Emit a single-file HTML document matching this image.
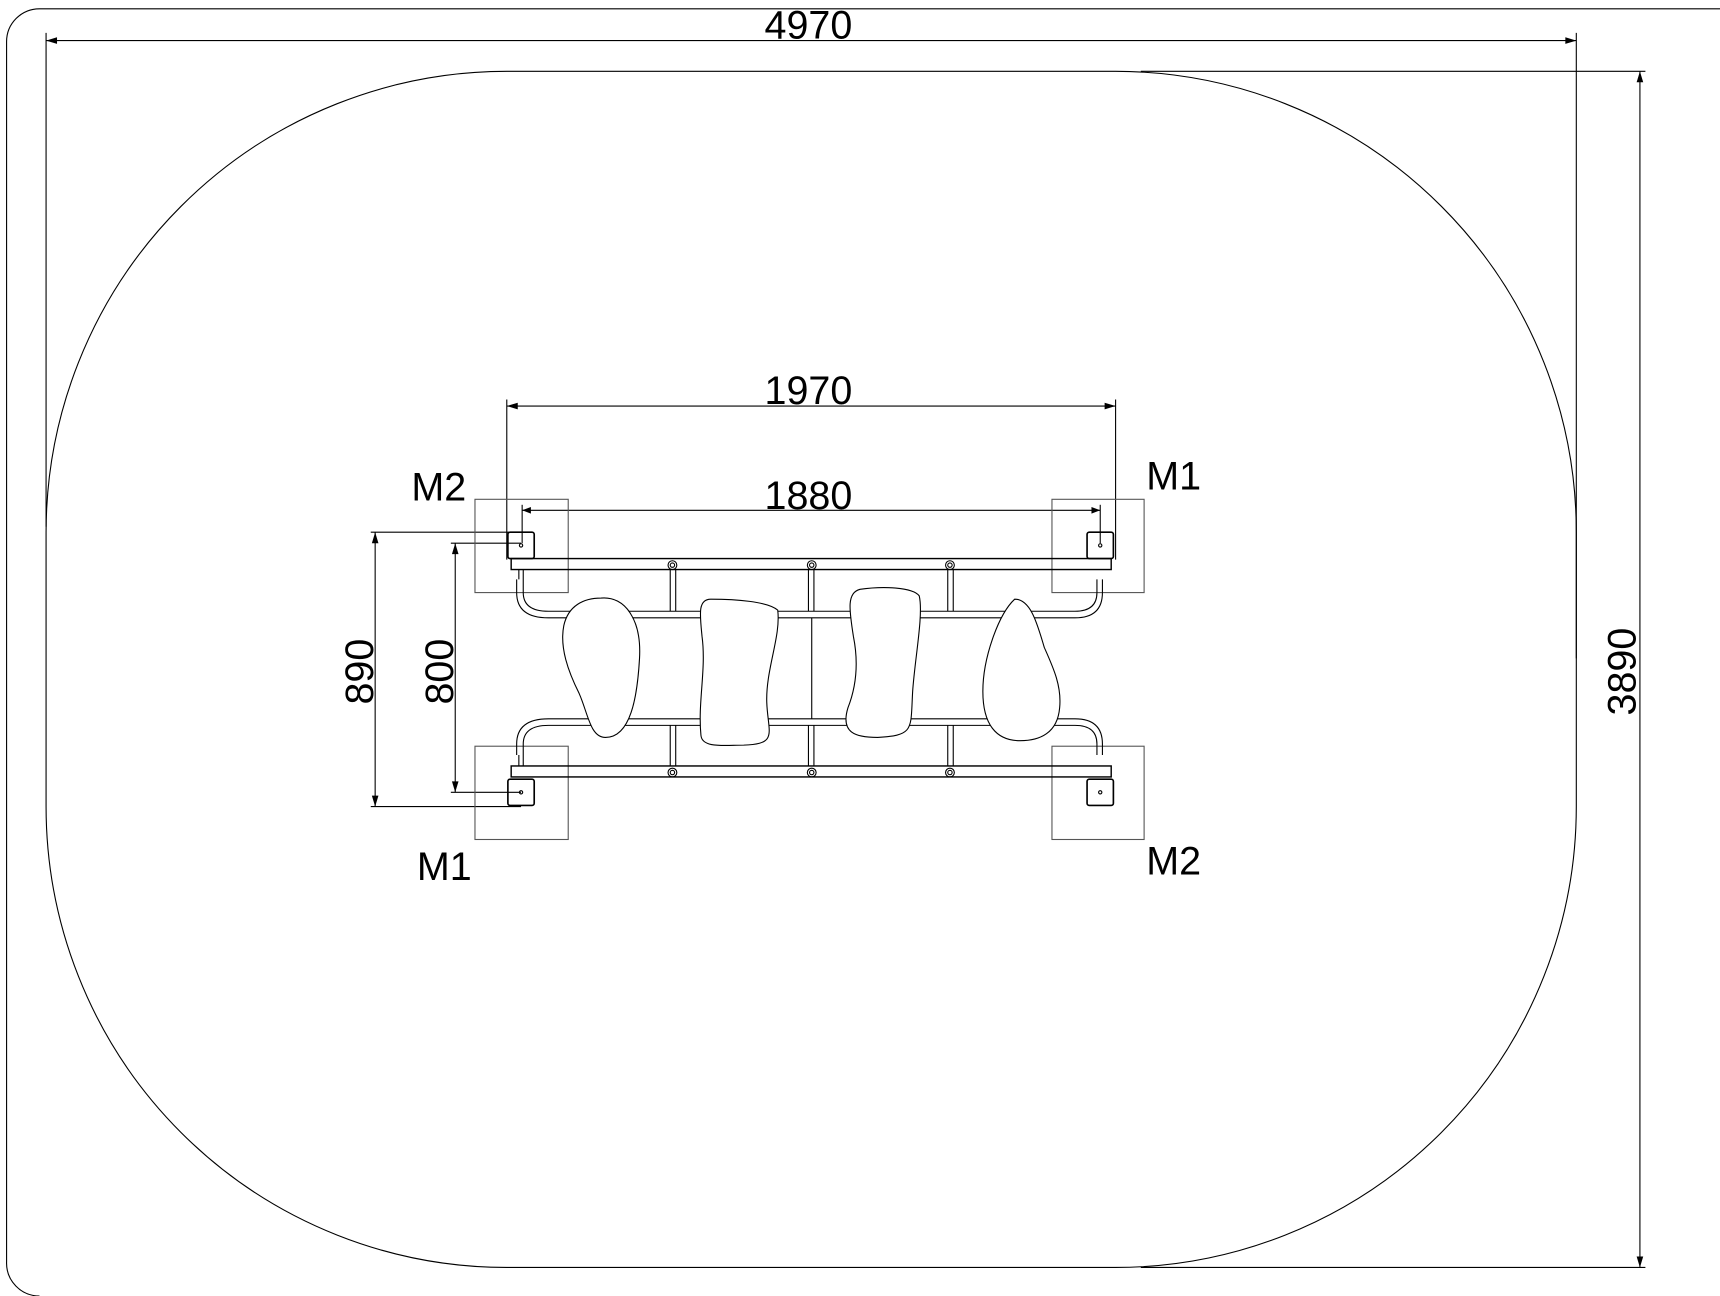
<!DOCTYPE html>
<html><head><meta charset="utf-8"><style>html,body{margin:0;padding:0;background:#fff}svg{display:block}</style></head>
<body>
<svg width="1720" height="1296" viewBox="0 0 1568 1181" preserveAspectRatio="none" xmlns="http://www.w3.org/2000/svg" font-family="Liberation Sans, sans-serif">
<g fill="none" stroke="#000" stroke-width="1">
<path d="M1568 8 H36 A30 30 0 0 0 6 38 V1150 A30 30 0 0 0 36 1181"/>
<rect x="42" y="65" width="1395" height="1090" rx="420" ry="420"/>
<line x1="42" y1="37" x2="1437" y2="37"/>
<line x1="42" y1="30" x2="42" y2="480"/>
<line x1="1437" y1="30" x2="1437" y2="600"/>
<line x1="1495" y1="65" x2="1495" y2="1155"/>
<line x1="1040" y1="65" x2="1500" y2="65"/>
<line x1="1040" y1="1155" x2="1500" y2="1155"/>
<line x1="462" y1="370" x2="1017" y2="370"/>
<line x1="462" y1="364" x2="462" y2="510"/>
<line x1="1017" y1="364" x2="1017" y2="510"/>
<line x1="476" y1="465" x2="1003" y2="465"/>
<line x1="476" y1="460" x2="476" y2="495"/>
<line x1="1003" y1="460" x2="1003" y2="495"/>
<line x1="342" y1="485" x2="342" y2="735"/>
<line x1="338" y1="485" x2="475" y2="485"/>
<line x1="338" y1="735" x2="475" y2="735"/>
<line x1="415" y1="495" x2="415" y2="722"/>
<line x1="411" y1="495" x2="475" y2="495"/>
<line x1="411" y1="722" x2="475" y2="722"/>
<rect x="433" y="455" width="85" height="85" stroke="#555"/>
<rect x="959" y="455" width="84" height="85" stroke="#555"/>
<rect x="433" y="680" width="85" height="85" stroke="#555"/>
<rect x="959" y="680" width="84" height="85" stroke="#555"/>
<rect x="463" y="485" width="24" height="24" rx="2" stroke-width="1.5"/>
<rect x="991" y="485" width="24" height="24" rx="2" stroke-width="1.5"/>
<rect x="463" y="710" width="24" height="24" rx="2" stroke-width="1.5"/>
<rect x="991" y="710" width="24" height="24" rx="2" stroke-width="1.5"/>
<circle cx="475" cy="497" r="1.5"/><circle cx="1003" cy="497" r="1.5"/>
<circle cx="475" cy="722" r="1.5"/><circle cx="1003" cy="722" r="1.5"/>
<rect x="466" y="509" width="547" height="10" stroke-width="1.3"/>
<rect x="466" y="698" width="547" height="10" stroke-width="1.3"/>
<path d="M473 519 V528 M477 519 V528 M471 528 V540 Q471 563 500 563 H980 Q1005 563 1005 540 V528 M477 528 V540 Q477 557 500 557 H980 Q1000 557 1000 540 V528"/>
<path d="M473 698 V688 M477 698 V688 M471 688 V678 Q471 655 500 655 H980 Q1005 655 1005 678 V688 M477 688 V678 Q477 661 500 661 H980 Q1000 661 1000 678 V688"/>
<g>
<path d="M611 519 V557 M616 519 V557 M611 661 V698 M616 661 V698"/>
<path d="M737 519 V557 M742 519 V557 M737 661 V698 M742 661 V698 M740 563 V655"/>
<path d="M864 519 V557 M869 519 V557 M864 661 V698 M869 661 V698"/>
<circle cx="613" cy="515" r="4"/><circle cx="613" cy="515" r="2"/>
<circle cx="740" cy="515" r="4"/><circle cx="740" cy="515" r="2"/>
<circle cx="866" cy="515" r="4"/><circle cx="866" cy="515" r="2"/>
<circle cx="613" cy="704" r="4"/><circle cx="613" cy="704" r="2"/>
<circle cx="740" cy="704" r="4"/><circle cx="740" cy="704" r="2"/>
<circle cx="866" cy="704" r="4"/><circle cx="866" cy="704" r="2"/>
</g>
<g fill="#fff">
<path d="M548 545 C570 543 585 565 583 600 C581 635 575 672 552 672 C538 672 536 650 528 632 C518 612 510 590 514 570 C518 552 532 545 548 545 Z"/>
<path d="M648 546 C670 546 700 548 709 556 C712 580 698 610 699 640 C700 668 710 678 678 679 C660 679 640 682 639 670 C636 640 644 610 640 580 C638 560 636 546 648 546 Z"/>
<path d="M784 537 C805 534 832 535 838 543 C842 560 834 600 832 630 C830 665 834 670 800 672 C780 672 766 668 773 645 C782 622 782 600 778 580 C774 555 772 540 784 537 Z"/>
<path d="M925 546 C940 546 946 570 952 590 C960 608 968 625 966 645 C964 668 948 675 930 675 C908 675 896 660 896 630 C896 600 910 560 925 546 Z"/>
</g>
</g>
<g fill="#000" stroke="none">
<polygon points="42,37 52,34 52,40"/><polygon points="1437,37 1427,34 1427,40"/>
<polygon points="1495,65 1492,75 1498,75"/><polygon points="1495,1155 1492,1145 1498,1145"/>
<polygon points="462,370 472,367 472,373"/><polygon points="1017,370 1007,367 1007,373"/>
<polygon points="476,465 484,462 484,468"/><polygon points="1003,465 995,462 995,468"/>
<polygon points="342,485 339,495 345,495"/><polygon points="342,735 339,725 345,725"/>
<polygon points="415,495 412,505 418,505"/><polygon points="415,722 412,712 418,712"/>
</g>
<g font-size="36" fill="#000" text-anchor="middle">
<text x="737" y="35">4970</text>
<text x="737" y="368">1970</text>
<text x="737" y="464">1880</text>
<text x="400" y="456">M2</text>
<text x="1070" y="446">M1</text>
<text x="405" y="802">M1</text>
<text x="1070" y="797">M2</text>
<text transform="translate(340,612) rotate(-90)">890</text>
<text transform="translate(413,612) rotate(-90)">800</text>
<text transform="translate(1491,612) rotate(-90)">3890</text>
</g>
</svg>
</body></html>
